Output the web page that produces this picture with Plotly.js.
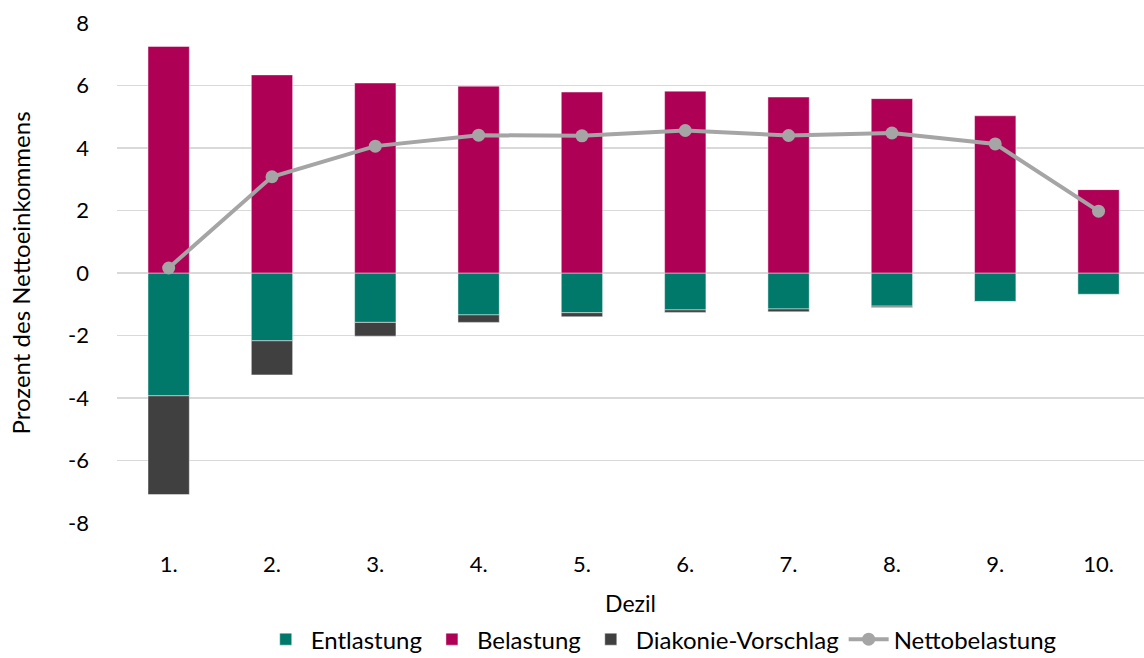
<!DOCTYPE html>
<html>
<head>
<meta charset="utf-8">
<script src="https://cdn.plot.ly/plotly-3.0.1.min.js"></script>
<style>html,body{margin:0;padding:0;background:#fff;}#chart{width:1144px;height:658px;}</style>
</head>
<body>
<div id="chart"></div>
<script>
const categories = ["1.", "2.", "3.", "4.", "5.", "6.", "7.", "8.", "9.", "10."];
const entlastung = [-3.93, -2.17, -1.58, -1.34, -1.27, -1.18, -1.15, -1.06, -0.91, -0.68];
const belastung = [7.25, 6.34, 6.08, 5.98, 5.79, 5.82, 5.63, 5.58, 5.03, 2.67];
const diakonie = [-3.16, -1.09, -0.44, -0.24, -0.13, -0.08, -0.09, -0.04, -0.01, 0];
const netto = [0.16, 3.08, 4.06, 4.41, 4.39, 4.56, 4.40, 4.48, 4.13, 1.98];
const yTicks = [-8, -6, -4, -2, 0, 2, 4, 6, 8];

const font = "Lato, 'Open Sans', sans-serif";
const barLine = {color: "rgba(255,255,255,0.45)", width: 1};

const traces = [
  {type: "bar", name: "Entlastung", x: categories, y: entlastung,
   marker: {color: "#00796B", line: barLine}},
  {type: "bar", name: "Belastung", x: categories, y: belastung,
   marker: {color: "#AE0055", line: barLine}},
  {type: "bar", name: "Diakonie-Vorschlag", x: categories, y: diakonie,
   marker: {color: "#404040", line: barLine}},
  {type: "scatter", mode: "lines+markers", name: "Nettobelastung", x: categories, y: netto,
   line: {color: "#A5A5A5", width: 4}, marker: {color: "#A5A5A5", size: 13}}
];

const layout = {
  width: 1144, height: 658,
  margin: {l: 117, r: 0, t: 23, b: 135, autoexpand: false},
  paper_bgcolor: "#fff", plot_bgcolor: "#fff",
  barmode: "relative", bargap: 0.6,
  font: {family: font, size: 22, color: "#000"},
  showlegend: true,
  legend: {orientation: "h", xref: "container", x: 0.578, xanchor: "center",
           yref: "container", y: 0.028, yanchor: "middle",
           font: {family: font, size: 24, color: "#000"}, traceorder: "normal",
           itemwidth: 40, tracegroupgap: 0},
  xaxis: {type: "category", range: [-0.5, 9.44], showgrid: false, zeroline: false,
          showline: false, ticks: "", ticklabelstandoff: 26,
          tickfont: {family: font, size: 22, color: "#000"},
          title: {text: "Dezil", font: {family: font, size: 23, color: "#000"}, standoff: 22}},
  yaxis: {range: [-8, 8], tickvals: yTicks, ticktext: yTicks.map(String),
          showgrid: true, gridcolor: "#D9D9D9", gridwidth: 1.5,
          zeroline: true, zerolinecolor: "#D9D9D9", zerolinewidth: 1.5,
          showline: false, ticks: "", ticklabelstandoff: 27,
          tickfont: {family: font, size: 22, color: "#000"},
          title: {text: "Prozent des Nettoeinkommens", font: {family: font, size: 24, color: "#000"}, standoff: 30}}
};

Plotly.newPlot("chart", traces, layout, {displayModeBar: false, staticPlot: true});
</script>
</body>
</html>
